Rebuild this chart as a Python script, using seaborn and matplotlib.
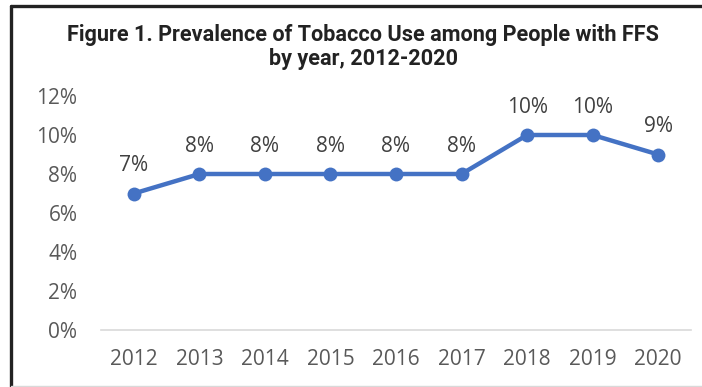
import matplotlib
matplotlib.use("Agg")
import matplotlib.pyplot as plt
import seaborn as sns
import pandas as pd
from matplotlib.lines import Line2D
from matplotlib.ticker import FuncFormatter

years = ["2012", "2013", "2014", "2015", "2016", "2017", "2018", "2019", "2020"]
prevalence = [7, 8, 8, 8, 8, 8, 10, 10, 9]
y_ticks = [0, 2, 4, 6, 8, 10, 12]

df = pd.DataFrame({"year": years, "prevalence": prevalence})

sns.set_theme(style="white")
plt.rcParams["font.family"] = ["Open Sans", "DejaVu Sans"]

fig = plt.figure(figsize=(7.02, 3.87), dpi=100)
ax = fig.add_axes([101 / 702, 1 - 330 / 387, (691 - 101) / 702, (330 - 96) / 387])

sns.lineplot(data=df, x="year", y="prevalence", ax=ax, color="#4472C4",
             linewidth=3.2, marker="o", markersize=10, markeredgewidth=0, sort=False)

ax.set_xlim(-0.5, len(years) - 0.5)
ax.set_ylim(0, 12)
ax.set_yticks(y_ticks)
ax.yaxis.set_major_formatter(FuncFormatter(lambda v, p: f"{int(v)}%"))
ax.set_xlabel("")
ax.set_ylabel("")
for s in ["top", "right", "left"]:
    ax.spines[s].set_visible(False)
ax.spines["bottom"].set_color("#D9D9D9")
ax.spines["bottom"].set_linewidth(1.2)
ax.tick_params(axis="both", length=0, labelsize=15, colors="#595959")
ax.tick_params(axis="x", pad=14)
ax.tick_params(axis="y", pad=17)
for lbl in ax.get_yticklabels():
    lbl.set_horizontalalignment("right")

for i, v in enumerate(prevalence):
    ax.annotate(f"{v}%", (i, v), xytext=(0, 12.5), textcoords="offset points",
                ha="center", va="bottom", fontsize=15, color="#404040")

title_x = 363 / 702
fig.text(title_x, 1 - 35 / 387, "Figure 1. Prevalence of Tobacco Use among People with FFS",
         ha="center", va="center", fontsize=15.6, fontweight="bold", color="#222222",
         family=["Roboto", "DejaVu Sans"])
fig.text(title_x, 1 - 59 / 387, "by year, 2012-2020",
         ha="center", va="center", fontsize=15.6, fontweight="bold", color="#222222",
         family=["Roboto", "DejaVu Sans"])

# frame lines
fig.add_artist(Line2D([10.5 / 702, 1.0], [1 - 6 / 387, 1 - 6 / 387], transform=fig.transFigure,
                      color="#222222", linewidth=2.4))
fig.add_artist(Line2D([10.5 / 702, 10.5 / 702], [0, 1 - 6 / 387], transform=fig.transFigure,
                      color="#222222", linewidth=2.4))
fig.add_artist(Line2D([10.5 / 702, 1.0], [1 - 385.5 / 387, 1 - 385.5 / 387], transform=fig.transFigure,
                      color="#D9D9D9", linewidth=1.0))

fig.savefig("out.png", dpi=100)
